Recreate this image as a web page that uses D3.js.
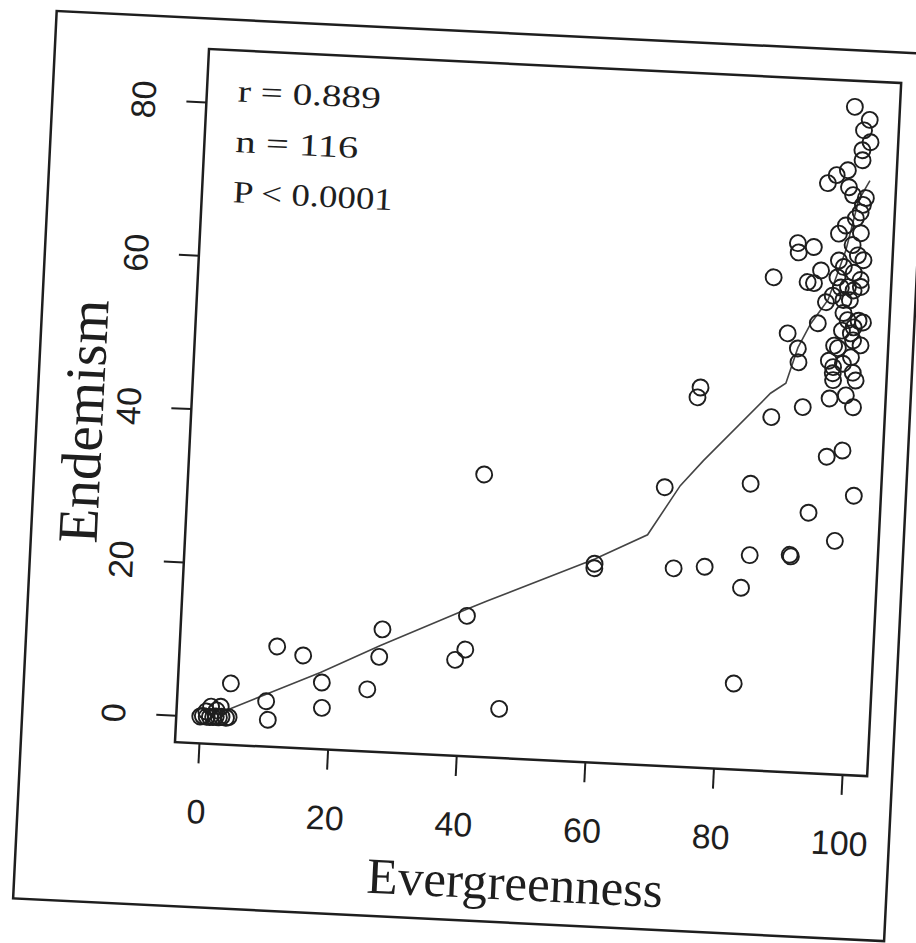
<!DOCTYPE html>
<html>
<head>
<meta charset="utf-8">
<script src="https://cdn.jsdelivr.net/npm/d3@7"></script>
<style>
  html, body { margin: 0; padding: 0; background: #fff; }
  svg { display: block; }
</style>
</head>
<body>
<div id="chart"></div>
<script>
// values (evergreenness %, endemism %)
const evergreenness = [
  96.9, 99.3, 98.5, 99.6, 98.4, 98.5, 96.3, 94.6, 93.3, 96.6, 97.3, 99.3, 98.9, 98.6, 97.9, 95.4, 98.8, 97.6, 89.1, 89.3,
  91.6, 99.4, 95.6, 96.4, 92.9, 85.6, 90.9, 91.9, 95.5, 98.0, 99.1, 97.2, 94.9,
  93.9, 92.8, 88.2, 89.9, 90.1, 75.1, 74.7, 91.1, 86.3, 98.9, 97.6, 95.2, 95.5, 98.2, 98.6, 95.5, 95.5, 98.4,
  99.1, 97.4, 96.6, 98.1, 96.1, 99.2, 98.0, 98.4, 96.7, 99.8, 94.8, 95.6, 96.1, 99.1, 95.2,
  42.2, 60.0, 60.0, 70.3, 72.3, 77.1, 82.5, 82.9, 83.6, 99.7, 92.8, 97.1, 84.0, 90.2, 90.4,
  4.5, 10.1, 10.5, 11.4, 15.5, 18.8, 18.6, 25.7, 27.6, 27.3, 40.6, 40.6, 39.1, 46.3,
  0.0, 0.4, 1.0, 1.5, 2.0, 2.4, 2.9, 3.3, 4.0, 4.4, 1.6, 3.1, 2.5, 0.9,
  96.4, 97.6, 96.6, 99.6, 97.7, 98.5, 97.0
];
const endemism = [
  83.5, 81.9, 80.5, 79.0, 77.9, 76.6, 75.2, 74.5, 73.4, 73.0, 72.0, 71.7, 70.8, 69.8, 69.0, 66.9, 67.1, 65.5, 65.4, 64.2,
  65.0, 63.6, 63.4, 62.6, 62.0, 60.8, 60.4, 60.3, 61.2, 61.9, 61.0, 60.0, 58.8,
  57.9, 55.1, 53.6, 51.7, 49.9, 46.0, 44.7, 44.1, 42.6, 44.4, 38.7, 37.8, 52.3, 50.9, 48.9, 49.5, 48.7, 54.8,
  55.7, 55.7, 58.3, 59.6, 59.9, 60.1, 54.0, 53.1, 56.6, 55.5, 50.3, 47.8, 52.0, 47.9, 45.4,
  33.3, 22.4, 21.8, 32.8, 22.3, 22.7, 7.7, 20.2, 33.8, 32.9, 30.4, 26.9, 24.5, 24.8, 24.6,
  4.5, 2.4, 0.0, 9.6, 8.6, 1.9, 5.2, 4.6, 12.5, 8.9, 14.8, 10.4, 9.0, 2.9,
  0.0, 0.1, 0.0, 0.0, 0.0, 0.1, 0.0, 0.1, 0.0, 0.1, 1.35, 1.4, 0.9, 0.7,
  68.0, 58.3, 54.3, 52.5, 45.9, 64.2, 50.0
];

// smoothed trend line
const smoothX = [2, 4.6, 18.3, 27.4, 40.6, 43.7, 60, 68, 72.7, 76.1, 86, 88.3, 89.9, 91.7, 94.2, 96.6, 98.2, 99.8];
const smoothY = [0.3, 1.2, 6.5, 10.4, 15.7, 16.9, 23.0, 26.5, 33.1, 36.5, 45.7, 47.1, 51.8, 55.0, 58.2, 64.8, 71.4, 74];

const xTicks = [0, 20, 40, 60, 80, 100];
const yTicks = [0, 20, 40, 60, 80];
const statLines = ['r = 0.889', 'n = 116', 'P < 0.0001'];
const statWidths = [143, 123, 160];

const width = 916;
const height = 943;
const innerW = 693;
const innerH = 694;
const ink = '#1e1e1e';

const svg = d3.select('#chart')
  .append('svg')
  .attr('width', width)
  .attr('height', height);

// the scanned page sits a little tilted
const g = svg.append('g')
  .attr('transform', 'translate(209,49) rotate(2.81)');

const x = d3.scaleLinear().domain([-3.73, 103.9]).range([0, innerW]);
const y = d3.scaleLinear().domain([-3.5, 86.9]).range([innerH, 0]);

// outer figure frame
g.append('rect')
  .attr('x', -154).attr('y', -30.5)
  .attr('width', 872).attr('height', 888.5)
  .attr('fill', 'none')
  .attr('stroke', ink)
  .attr('stroke-width', 2.5);

// x axis
const xAxis = g.append('g')
  .attr('transform', `translate(0,${innerH})`)
  .call(d3.axisBottom(x).tickValues(xTicks).tickSize(20).tickPadding(36));
xAxis.select('.domain').remove();
xAxis.selectAll('line').attr('stroke', ink).attr('stroke-width', 2);
xAxis.selectAll('text')
  .attr('fill', ink)
  .style('font-family', '"Liberation Sans", Arial, sans-serif')
  .style('font-size', '34px');

// y axis, labels parallel to the axis
const yAxis = g.append('g')
  .call(d3.axisLeft(y).tickValues(yTicks).tickSize(20));
yAxis.select('.domain').remove();
yAxis.selectAll('line').attr('stroke', ink).attr('stroke-width', 2);
yAxis.selectAll('text')
  .attr('x', 0)
  .attr('dy', 0)
  .attr('transform', 'translate(-51,0) rotate(-90)')
  .attr('text-anchor', 'middle')
  .attr('fill', ink)
  .style('font-family', '"Liberation Sans", Arial, sans-serif')
  .style('font-size', '34px');

// plot box
g.append('rect')
  .attr('width', innerW)
  .attr('height', innerH)
  .attr('fill', 'none')
  .attr('stroke', ink)
  .attr('stroke-width', 2.5);

// trend line
const line = d3.line()
  .x(d => x(d[0]))
  .y(d => y(d[1]));

g.append('path')
  .datum(d3.zip(smoothX, smoothY))
  .attr('d', line)
  .attr('fill', 'none')
  .attr('stroke', '#444')
  .attr('stroke-width', 1.6);

// points
g.selectAll('.pt')
  .data(d3.zip(evergreenness, endemism))
  .join('circle')
  .attr('class', 'pt')
  .attr('cx', d => x(d[0]))
  .attr('cy', d => y(d[1]))
  .attr('r', 8)
  .attr('fill', 'none')
  .attr('stroke', ink)
  .attr('stroke-width', 1.9);

// stats
g.selectAll('.stat')
  .data(statLines)
  .join('text')
  .attr('class', 'stat')
  .attr('x', 31)
  .attr('y', (d, i) => 51 + i * 50.5)
  .attr('textLength', (d, i) => statWidths[i])
  .attr('lengthAdjust', 'spacingAndGlyphs')
  .attr('fill', ink)
  .style('font-family', '"Liberation Serif", "Times New Roman", serif')
  .style('font-size', '31px')
  .text(d => d);

// axis titles
g.append('text')
  .attr('x', innerW / 2)
  .attr('y', 835)
  .attr('text-anchor', 'middle')
  .attr('fill', ink)
  .style('font-family', '"Liberation Serif", "Times New Roman", serif')
  .style('font-size', '51px')
  .text('Evergreenness');

g.append('text')
  .attr('transform', 'translate(-88,378) rotate(-90)')
  .attr('text-anchor', 'middle')
  .attr('fill', ink)
  .style('font-family', '"Liberation Serif", "Times New Roman", serif')
  .style('font-size', '57px')
  .text('Endemism');
</script>
</body>
</html>
